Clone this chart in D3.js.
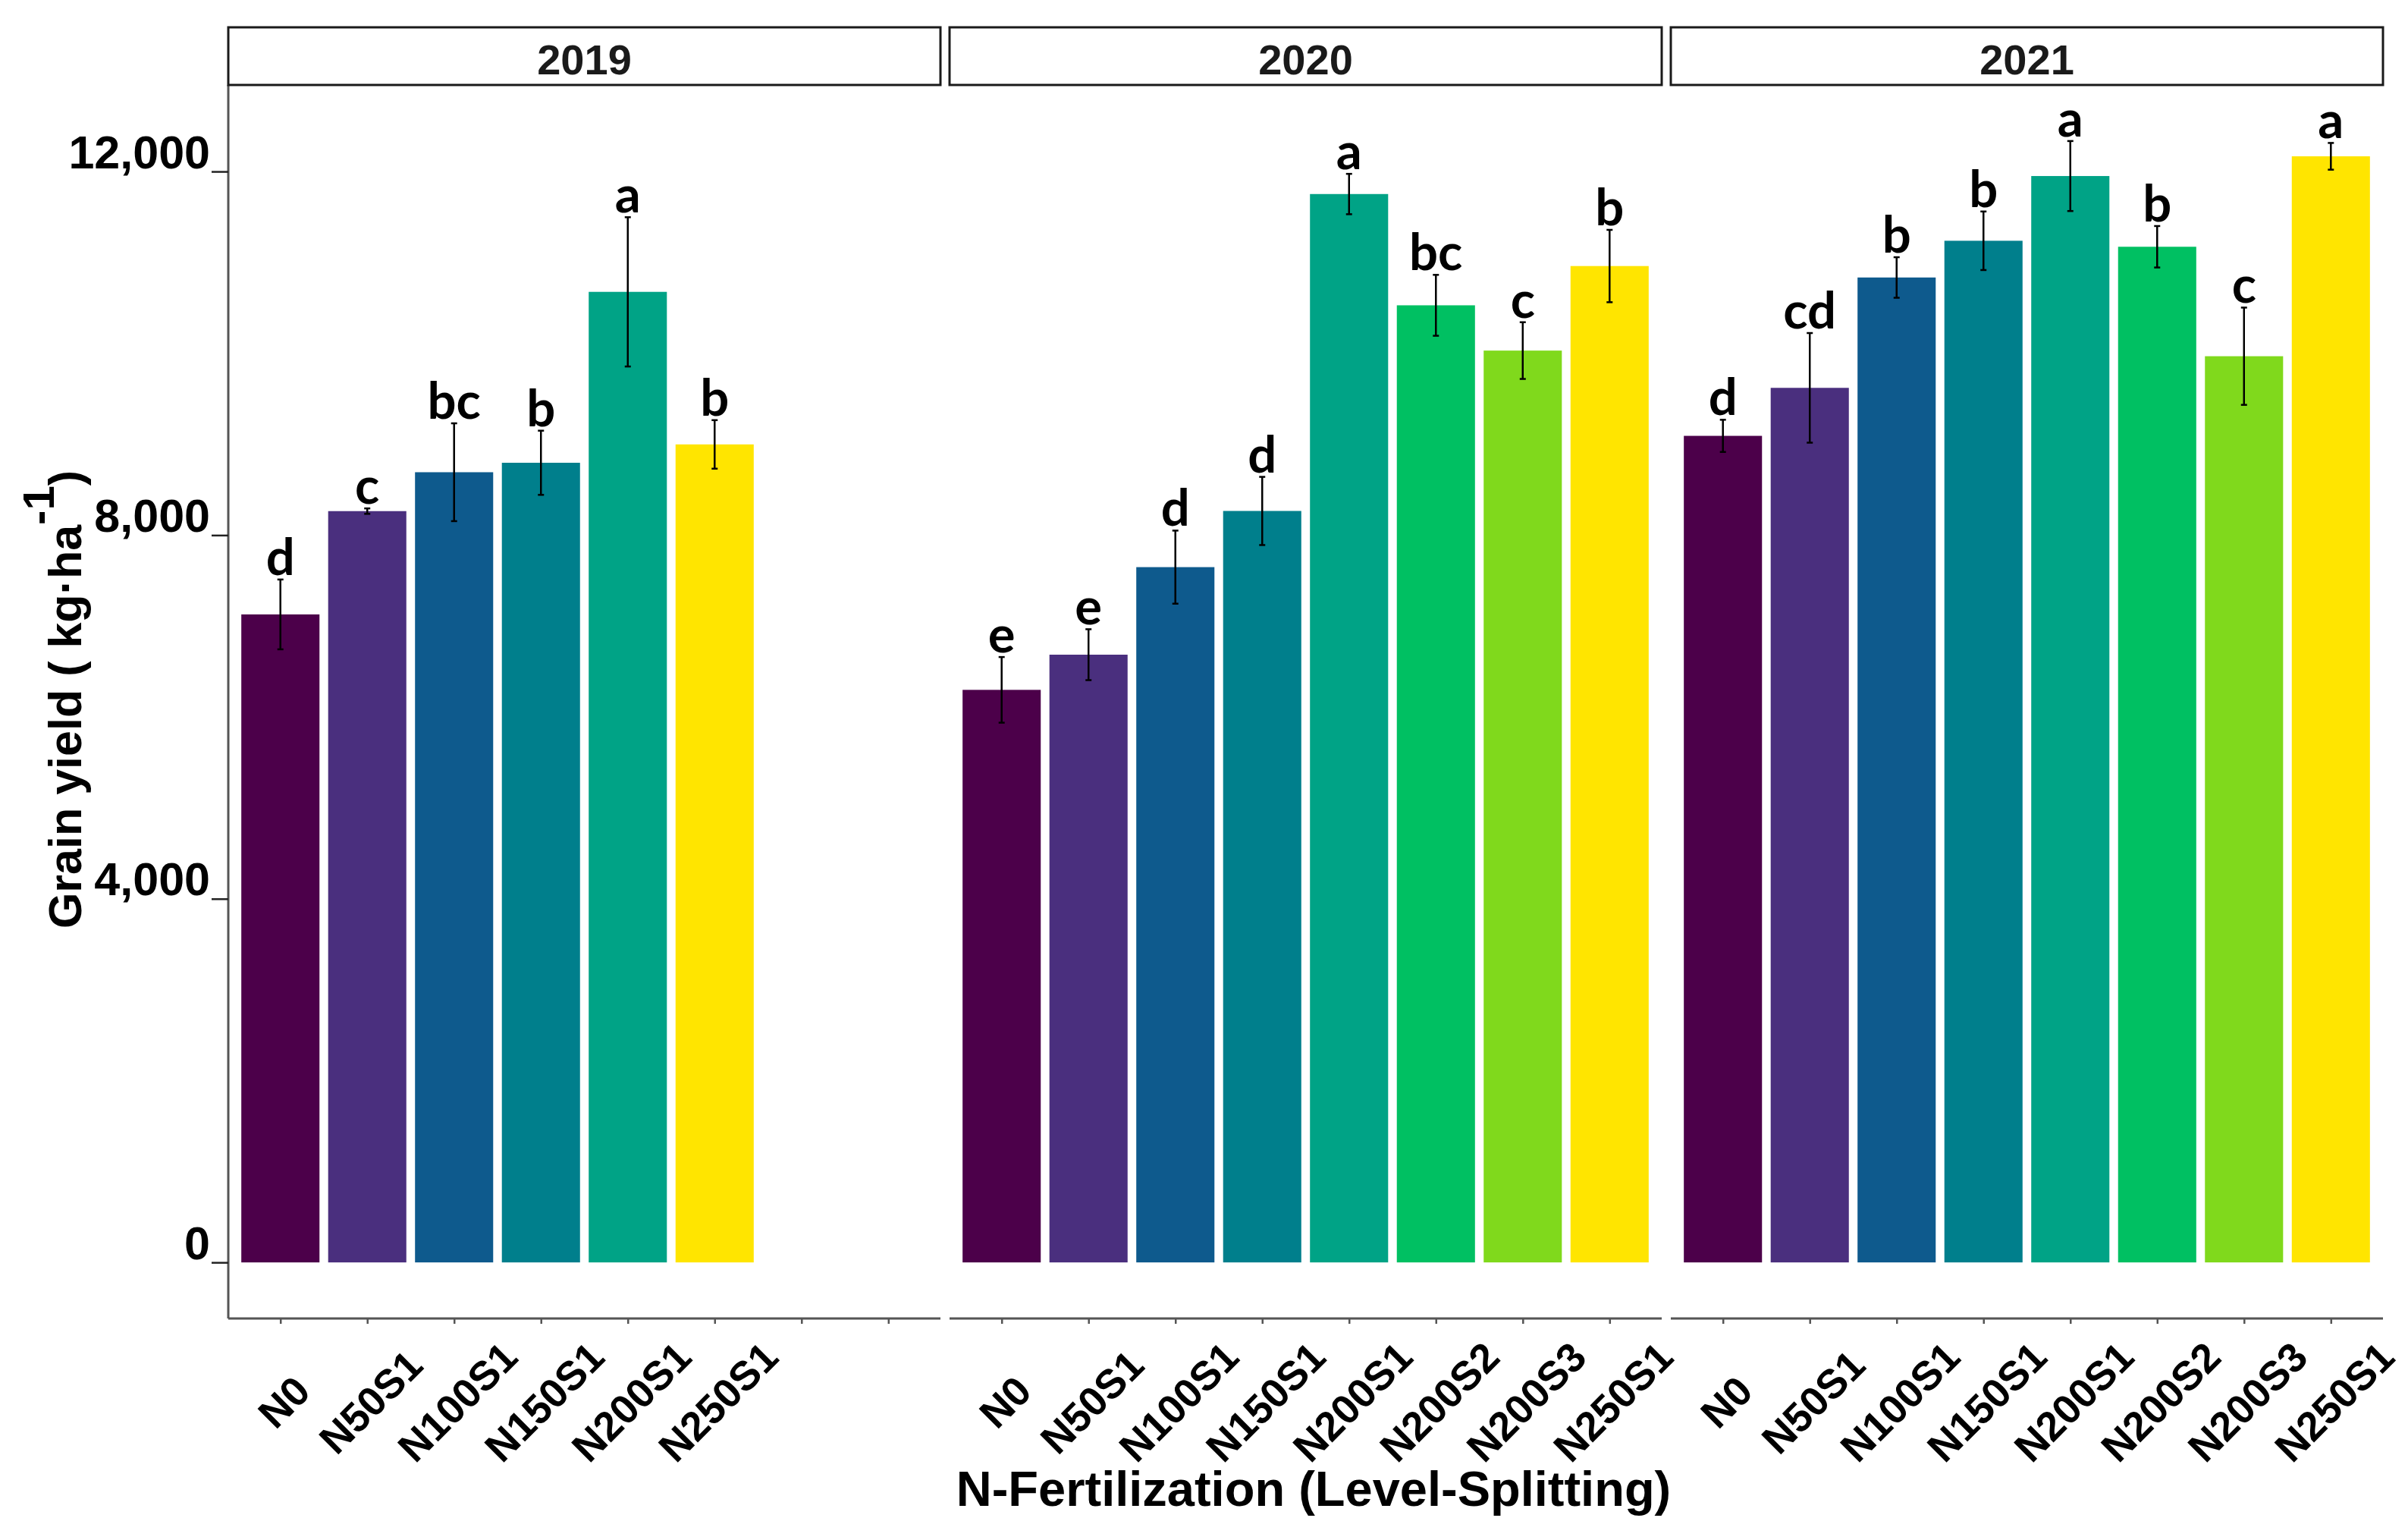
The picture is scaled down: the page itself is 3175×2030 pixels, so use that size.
<!DOCTYPE html>
<html>
<head>
<meta charset="utf-8">
<script src="https://cdn.jsdelivr.net/npm/d3@7"></script>
<style>
body { margin: 0; background: #fff; }
</style>
</head>
<body>
<div id="container"><svg></svg></div>
<script>
// data (grain yield, kg/ha, mean and error)
const years = ['2019', '2020', '2021'];
const treatments = ['N0', 'N50S1', 'N100S1', 'N150S1', 'N200S1', 'N200S2', 'N200S3', 'N250S1'];
const treatColors = ['#4c004a', '#4a2f7e', '#0e5a8d', '#007f8c', '#00a386', '#00c062', '#80d91c', '#ffe500'];

const treat2019 = ['N0', 'N50S1', 'N100S1', 'N150S1', 'N200S1', 'N250S1'];
const mean2019 = [7128, 8264, 8692, 8796, 10676, 8998];
const se2019 = [384, 30, 538, 353, 821, 267];
const letters2019 = ['d', 'c', 'bc', 'b', 'a', 'b'];

const treat2020 = ['N0', 'N50S1', 'N100S1', 'N150S1', 'N200S1', 'N200S2', 'N200S3', 'N250S1'];
const mean2020 = [6298, 6685, 7648, 8266, 11752, 10528, 10030, 10960];
const se2020 = [361, 280, 402, 375, 222, 335, 312, 398];
const letters2020 = ['e', 'e', 'd', 'd', 'a', 'bc', 'c', 'b'];

const treat2021 = ['N0', 'N50S1', 'N100S1', 'N150S1', 'N200S1', 'N200S2', 'N200S3', 'N250S1'];
const mean2021 = [9092, 9620, 10834, 11238, 11950, 11172, 9968, 12167];
const se2021 = [177, 603, 223, 322, 385, 228, 535, 147];
const letters2021 = ['d', 'cd', 'b', 'b', 'a', 'b', 'c', 'a'];

const yTicks = [0, 4000, 8000, 12000];
const nSlots = 8;

const panels = [
    {year: years[0], treat: treat2019, mean: mean2019, se: se2019, letters: letters2019},
    {year: years[1], treat: treat2020, mean: mean2020, se: se2020, letters: letters2020},
    {year: years[2], treat: treat2021, mean: mean2021, se: se2021, letters: letters2021}
];

const width = 3175, height = 2030;
const axisFont = "'Liberation Sans', Arial, sans-serif";
const letterFont = "Lato, 'Open Sans', sans-serif";

let color = d3.scaleOrdinal().domain(treatments).range(treatColors);

function draw_main() {
    let svg = d3.select('#container').select('svg')
        .attr('width', width)
        .attr('height', height);

    svg.append('rect').attr('width', width).attr('height', height).attr('fill', '#fff');

    let plot = {left: 301, right: 3142, top: 112, bottom: 1738, gap: 12, stripTop: 36};
    let panelW = (plot.right - plot.left - 2 * plot.gap) / 3;

    // shared y scale, ggplot-like 5% expansion
    let yMax = d3.max(panels, p => d3.max(p.mean, (m, i) => m + p.se[i]));
    let y = d3.scaleLinear()
        .domain([-0.05 * yMax, 1.05 * yMax])
        .range([plot.bottom, plot.top]);

    // y axis
    let axis_y = d3.axisLeft(y)
        .tickValues(yTicks)
        .tickFormat(d3.format(','))
        .tickSize(22)
        .tickSizeOuter(0)
        .tickPadding(2);
    let gy = svg.append('g')
        .attr('transform', `translate(${plot.left}, 0)`)
        .call(axis_y);
    gy.select('.domain').attr('stroke', '#555').attr('stroke-width', 3)
        .attr('d', `M0,${plot.top}V${plot.bottom}`);
    gy.selectAll('.tick line').attr('stroke', '#222').attr('stroke-width', 2.5);
    gy.selectAll('.tick text')
        .attr('font-family', axisFont)
        .attr('font-weight', 'bold')
        .attr('font-size', '61px')
        .attr('fill', '#000')
        .attr('dy', '-0.08em');

    // y title
    let yt = svg.append('text')
        .attr('transform', `translate(107, 620) rotate(-90)`)
        .attr('text-anchor', 'end')
        .attr('font-family', axisFont)
        .attr('font-weight', 'bold')
        .attr('font-size', '61px')
        .attr('fill', '#000');
    yt.append('tspan').text('Grain yield ( kg·ha');
    yt.append('tspan').attr('font-size', '58px').attr('dy', -36).text('-1');
    yt.append('tspan').attr('dy', 36).text(')');

    panels.forEach((p, pi) => {
        let x0 = plot.left + pi * (panelW + plot.gap);
        let x1 = x0 + panelW;
        let slots = p.treat.slice();
        while (slots.length < nSlots) slots.push('blank' + slots.length);

        let x = d3.scalePoint()
            .domain(slots)
            .range([x0, x1])
            .padding(0.6);
        let barW = x.step() * 0.9;

        // strip
        svg.append('rect')
            .attr('x', x0).attr('y', plot.stripTop)
            .attr('width', panelW).attr('height', plot.top - plot.stripTop)
            .attr('fill', '#fff').attr('stroke', '#1a1a1a').attr('stroke-width', 3);
        svg.append('text')
            .attr('x', (x0 + x1) / 2).attr('y', 98)
            .attr('text-anchor', 'middle')
            .attr('font-family', axisFont).attr('font-weight', 'bold')
            .attr('font-size', '56px').attr('fill', '#1a1a1a')
            .text(p.year);

        let rows = p.treat.map((t, i) => ({t: t, m: p.mean[i], se: p.se[i], lab: p.letters[i]}));

        // bars
        svg.append('g')
            .selectAll('rect')
            .data(rows)
            .enter().append('rect')
            .attr('x', d => x(d.t) - barW / 2)
            .attr('y', d => y(d.m))
            .attr('width', barW)
            .attr('height', d => y(0) - y(d.m))
            .attr('fill', d => color(d.t));

        // error bars
        let eb = svg.append('g')
            .attr('stroke', '#000')
            .attr('stroke-width', 2.5)
            .selectAll('g')
            .data(rows)
            .enter().append('g');
        eb.append('line')
            .attr('x1', d => x(d.t)).attr('x2', d => x(d.t))
            .attr('y1', d => y(d.m + d.se)).attr('y2', d => y(d.m - d.se));
        eb.append('line')
            .attr('x1', d => x(d.t) - 4).attr('x2', d => x(d.t) + 4)
            .attr('y1', d => y(d.m + d.se)).attr('y2', d => y(d.m + d.se));
        eb.append('line')
            .attr('x1', d => x(d.t) - 4).attr('x2', d => x(d.t) + 4)
            .attr('y1', d => y(d.m - d.se)).attr('y2', d => y(d.m - d.se));

        // significance letters
        svg.append('g')
            .selectAll('text')
            .data(rows)
            .enter().append('text')
            .attr('x', d => x(d.t))
            .attr('y', d => y(d.m + d.se) - 6)
            .attr('text-anchor', 'middle')
            .attr('font-family', letterFont)
            .attr('font-weight', 'bold')
            .attr('font-size', '67px')
            .attr('fill', '#000')
            .text(d => d.lab);

        // x axis
        let axis_x = d3.axisBottom(x)
            .tickSize(7)
            .tickSizeOuter(0)
            .tickFormat(d => d.startsWith('blank') ? '' : d);
        let gx = svg.append('g')
            .attr('transform', `translate(0, ${plot.bottom})`)
            .call(axis_x);
        gx.select('.domain').attr('stroke', '#555').attr('stroke-width', 3)
            .attr('d', `M${x0},0H${x1}`);
        gx.selectAll('.tick line').attr('stroke', '#555').attr('stroke-width', 2.5);
        gx.selectAll('.tick text')
            .attr('font-family', axisFont)
            .attr('font-weight', 'bold')
            .attr('font-size', '54px')
            .attr('fill', '#000')
            .attr('text-anchor', 'middle')
            .attr('y', 0)
            .attr('dy', '0.35em')
            .attr('transform', 'translate(4, 110) rotate(-45)');
    });

    // x title
    svg.append('text')
        .attr('x', 1732).attr('y', 1985)
        .attr('text-anchor', 'middle')
        .attr('font-family', axisFont)
        .attr('font-weight', 'bold')
        .attr('font-size', '65px')
        .attr('fill', '#000')
        .text('N-Fertilization (Level-Splitting)');
}

draw_main();
</script>
</body>
</html>
